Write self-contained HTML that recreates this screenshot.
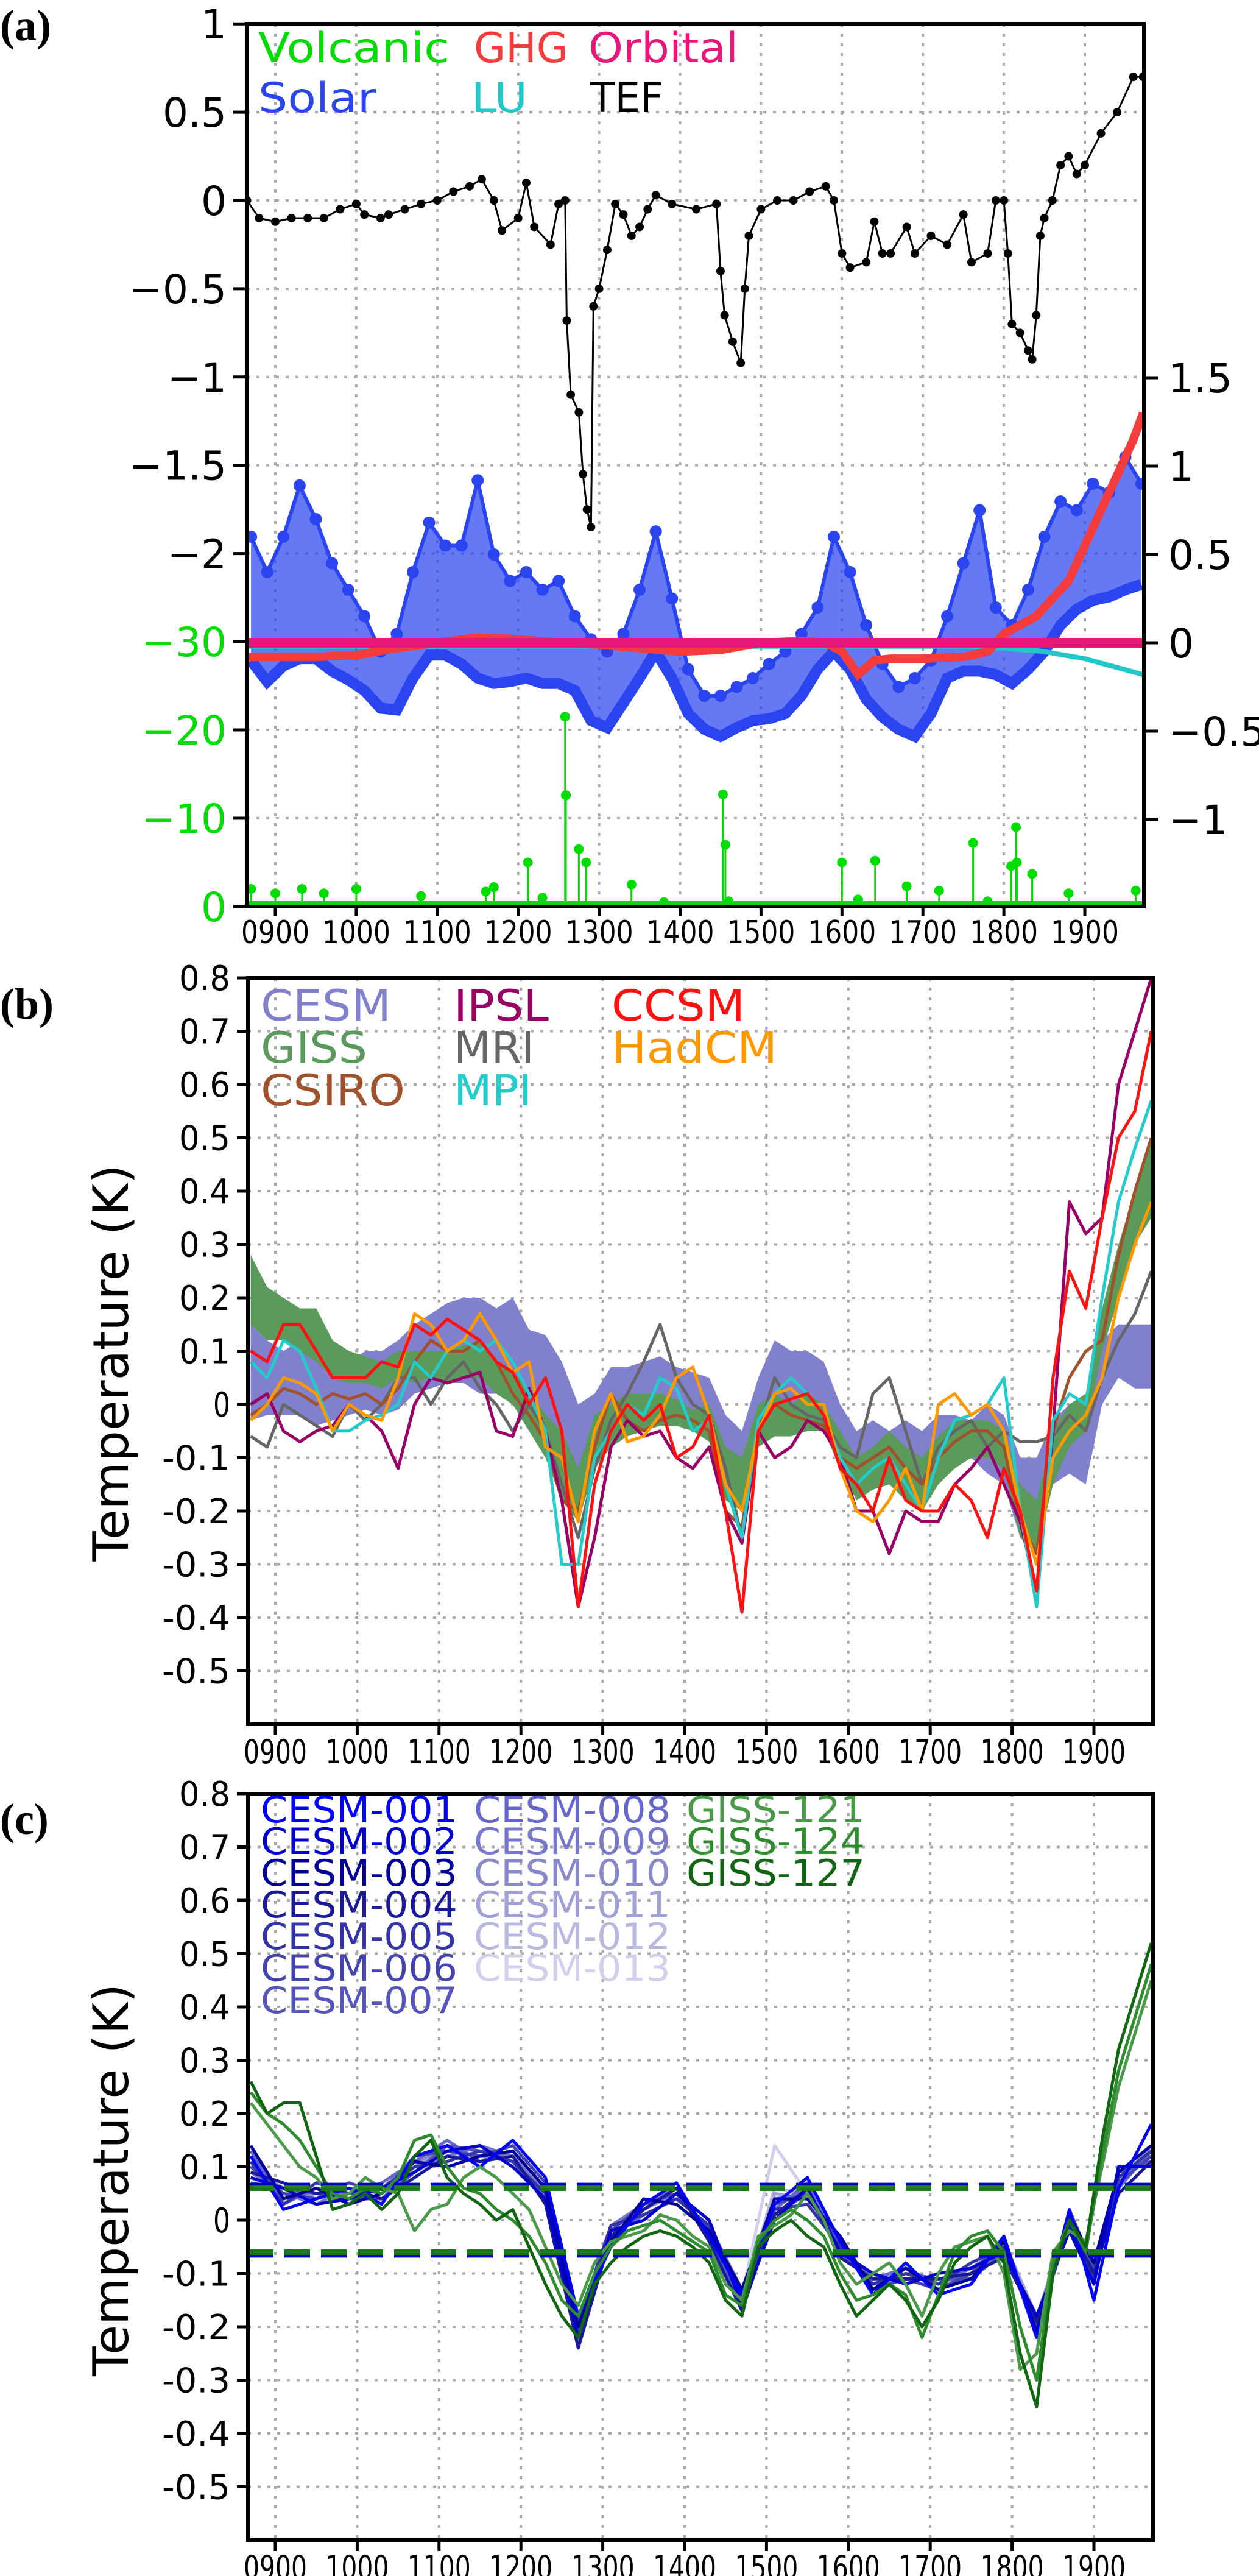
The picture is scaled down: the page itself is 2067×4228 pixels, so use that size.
<!DOCTYPE html>
<html><head><meta charset="utf-8">
<style>
html,body{margin:0;padding:0;background:#fff;}
svg{display:block;}
text{font-family:"DejaVu Sans","Liberation Sans",sans-serif;}
</style></head>
<body>
<svg id="fig" xmlns="http://www.w3.org/2000/svg" width="2067" height="4228" viewBox="0 0 2067 4228">
<rect x="0" y="0" width="2067" height="4228" fill="#fff"/>
<text x="0" y="66" font-weight="bold" font-size="72" style="font-family:'Liberation Serif',serif">(a)</text>
<text x="0" y="1672" font-weight="bold" font-size="72" style="font-family:'Liberation Serif',serif">(b)</text>
<text x="0" y="3010" font-weight="bold" font-size="72" style="font-family:'Liberation Serif',serif">(c)</text>
<g id="gA"></g>
<g id="gB"></g>
<g id="gC"></g>
</svg>
<script>
// ---------- Panel (a) data ----------
const solarYears = [870,890,910,930,950,970,990,1010,1030,1050,1070,1090,1110,1130,1150,1170,1190,1210,1230,1250,1270,1290,1310,1330,1350,1370,1390,1410,1430,1450,1470,1490,1510,1530,1550,1570,1590,1610,1630,1650,1670,1690,1710,1730,1750,1770,1790,1810,1830,1850,1870,1890,1910,1930,1950,1970];
const solarLo = [-0.1,-0.22,-0.13,-0.09,-0.09,-0.16,-0.21,-0.27,-0.37,-0.38,-0.2,-0.07,-0.07,-0.12,-0.2,-0.23,-0.22,-0.2,-0.23,-0.23,-0.27,-0.44,-0.48,-0.34,-0.2,-0.05,-0.2,-0.4,-0.49,-0.53,-0.48,-0.44,-0.43,-0.4,-0.3,-0.15,-0.05,-0.15,-0.32,-0.42,-0.49,-0.53,-0.4,-0.2,-0.16,-0.16,-0.18,-0.23,-0.15,-0.05,0.1,0.19,0.24,0.26,0.3,0.33];
const solarHi = [0.6,0.4,0.6,0.89,0.7,0.45,0.3,0.15,-0.05,0.05,0.4,0.68,0.55,0.55,0.92,0.5,0.35,0.4,0.3,0.35,0.15,0.02,-0.05,0.05,0.3,0.63,0.25,-0.15,-0.3,-0.3,-0.25,-0.2,-0.12,-0.05,0.05,0.2,0.6,0.4,0.1,-0.12,-0.25,-0.2,-0.1,0.15,0.45,0.75,0.2,0.1,0.3,0.6,0.8,0.75,0.9,0.85,1.05,0.9];
const ghgYears = [865,900,950,1000,1050,1100,1150,1200,1250,1300,1350,1400,1450,1500,1550,1580,1600,1620,1640,1660,1700,1750,1780,1800,1820,1840,1860,1880,1900,1920,1940,1960,1972];
const ghgVals = [-0.08,-0.08,-0.08,-0.07,-0.03,0.0,0.03,0.02,0.0,-0.01,-0.03,-0.05,-0.04,0.0,0.01,0.0,-0.05,-0.18,-0.1,-0.09,-0.09,-0.08,-0.05,0.05,0.1,0.15,0.25,0.35,0.55,0.75,0.95,1.15,1.3];
const luYears = [865,1750,1800,1850,1900,1940,1972];
const luVals = [-0.02,-0.02,-0.03,-0.05,-0.09,-0.14,-0.18];
const orbYears = [865,1972];
const orbVals = [0.0,0.0];
const tefYears = [865,880,900,920,940,960,980,1000,1010,1030,1040,1060,1080,1100,1120,1140,1155,1170,1180,1200,1210,1220,1240,1250,1258,1260,1265,1275,1280,1285,1290,1293,1300,1310,1320,1330,1340,1350,1360,1370,1390,1420,1445,1450,1455,1465,1475,1480,1485,1500,1520,1540,1560,1580,1590,1600,1610,1630,1640,1650,1660,1680,1690,1710,1730,1750,1760,1780,1790,1800,1805,1810,1820,1830,1835,1840,1845,1850,1860,1870,1880,1890,1900,1920,1940,1960,1972];
const tefVals = [0,-0.1,-0.12,-0.1,-0.1,-0.1,-0.05,-0.02,-0.08,-0.1,-0.08,-0.05,-0.02,0.0,0.05,0.08,0.12,0.0,-0.17,-0.1,0.1,-0.15,-0.25,-0.02,0.0,-0.68,-1.1,-1.2,-1.55,-1.75,-1.85,-0.6,-0.5,-0.28,-0.02,-0.08,-0.2,-0.15,-0.05,0.03,-0.02,-0.05,-0.02,-0.4,-0.65,-0.8,-0.92,-0.5,-0.2,-0.05,0.0,0.0,0.05,0.08,0.0,-0.3,-0.38,-0.35,-0.12,-0.3,-0.3,-0.15,-0.3,-0.2,-0.25,-0.08,-0.35,-0.3,0.0,0.0,-0.3,-0.7,-0.75,-0.85,-0.9,-0.65,-0.2,-0.1,0.0,0.2,0.25,0.15,0.2,0.38,0.5,0.7,0.7];
const volcYears = [870,900,933,960,1000,1080,1160,1170,1212,1230,1258,1259,1275,1284,1340,1380,1453,1456,1460,1600,1620,1641,1680,1720,1762,1780,1809,1815,1816,1835,1880,1963];
const volcVals = [-2,-1.5,-2,-1.5,-2,-1.2,-1.7,-2.2,-5,-1,-21.5,-12.6,-6.5,-5,-2.5,-0.5,-12.7,-7,-0.6,-5,-0.8,-5.2,-2.3,-1.8,-7.2,-0.6,-4.6,-9,-5,-3.7,-1.5,-1.8];
const yearTicks = [900,1000,1100,1200,1300,1400,1500,1600,1700,1800,1900];
const yearTickLabels = ["0900","1000","1100","1200","1300","1400","1500","1600","1700","1800","1900"];
const aLeftTicks = [1,0.5,0,-0.5,-1,-1.5,-2];
const aLeftLabels = ["1","0.5","0","\u22120.5","\u22121","\u22121.5","\u22122"];
const aVolcTicks = [-30,-20,-10,0];
const aVolcLabels = ["\u221230","\u221220","\u221210","0"];
const aRightTicks = [1.5,1,0.5,0,-0.5,-1];
const aRightLabels = ["1.5","1","0.5","0","\u22120.5","\u22121"];

// ---------- Panel (b) data ----------
const bYears = [870,890,910,930,950,970,990,1010,1030,1050,1070,1090,1110,1130,1150,1170,1190,1210,1230,1250,1270,1290,1310,1330,1350,1370,1390,1410,1430,1450,1470,1490,1510,1530,1550,1570,1590,1610,1630,1650,1670,1690,1710,1730,1750,1770,1790,1810,1830,1850,1870,1890,1910,1930,1950,1970];
const cesmLo = [-0.03,-0.02,-0.02,-0.02,-0.04,-0.03,-0.02,-0.01,-0.02,-0.01,0.02,0.03,0.04,0.04,0.02,0.02,0.0,0.0,-0.03,-0.1,-0.2,-0.12,-0.08,-0.06,-0.03,-0.02,-0.04,-0.03,-0.03,-0.12,-0.15,-0.08,-0.02,0.0,0.0,-0.02,-0.1,-0.15,-0.14,-0.15,-0.14,-0.15,-0.12,-0.12,-0.1,-0.13,-0.15,-0.25,-0.25,-0.15,-0.13,-0.15,0.0,0.05,0.03,0.03];
const cesmHi = [0.15,0.12,0.1,0.12,0.08,0.07,0.08,0.1,0.1,0.12,0.15,0.17,0.19,0.2,0.2,0.18,0.2,0.14,0.13,0.08,0.0,0.02,0.07,0.07,0.08,0.09,0.07,0.06,0.05,-0.02,-0.05,0.05,0.12,0.1,0.1,0.08,0.0,-0.05,-0.03,-0.05,-0.03,-0.05,-0.02,-0.02,-0.03,0.0,-0.02,-0.1,-0.1,-0.03,0.0,0.02,0.12,0.15,0.15,0.15];
const gissLo = [0.15,0.12,0.12,0.1,0.08,0.05,0.04,0.04,0.03,0.05,0.04,0.05,0.04,0.05,0.05,0.02,0.0,-0.05,-0.1,-0.18,-0.22,-0.12,-0.08,-0.06,-0.05,-0.04,-0.04,-0.05,-0.07,-0.18,-0.2,-0.08,-0.06,-0.06,-0.05,-0.05,-0.12,-0.18,-0.16,-0.15,-0.18,-0.2,-0.15,-0.12,-0.1,-0.1,-0.12,-0.25,-0.28,-0.15,-0.08,-0.05,0.1,0.2,0.3,0.35];
const gissHi = [0.28,0.22,0.2,0.18,0.18,0.12,0.1,0.09,0.08,0.1,0.1,0.1,0.1,0.11,0.12,0.08,0.06,0.03,-0.02,-0.05,-0.12,-0.02,0.0,0.02,0.02,0.02,0.01,-0.01,0.0,-0.08,-0.1,0.0,0.02,0.0,0.02,0.0,-0.05,-0.1,-0.08,-0.05,-0.08,-0.1,-0.06,-0.03,-0.03,-0.03,-0.05,-0.15,-0.18,-0.05,0.0,0.02,0.18,0.3,0.4,0.5];
const ipslVals = [0.0,0.02,-0.05,-0.07,-0.05,-0.04,0.0,-0.02,-0.05,-0.12,0.0,0.05,0.04,0.05,0.06,-0.05,-0.06,0.03,-0.05,-0.18,-0.38,-0.25,-0.08,-0.03,-0.06,-0.05,-0.1,-0.12,-0.08,-0.2,-0.26,-0.05,-0.1,-0.08,-0.03,-0.05,-0.1,-0.2,-0.2,-0.28,-0.2,-0.22,-0.22,-0.15,-0.12,-0.08,-0.15,-0.22,-0.35,-0.05,0.38,0.32,0.35,0.6,0.7,0.8];
const ccsmVals = [0.1,0.08,0.15,0.15,0.1,0.05,0.05,0.05,0.08,0.07,0.15,0.13,0.16,0.14,0.12,0.08,0.06,0.0,0.05,-0.05,-0.38,-0.15,-0.05,0.0,-0.03,0.0,-0.1,-0.08,-0.02,-0.2,-0.39,-0.05,0.0,0.01,0.02,-0.02,-0.12,-0.15,-0.2,-0.1,-0.18,-0.2,-0.2,-0.15,-0.18,-0.25,-0.12,-0.2,-0.35,0.05,0.25,0.18,0.35,0.5,0.55,0.7];
const mriVals = [-0.06,-0.08,0.0,-0.02,-0.04,-0.06,0.0,-0.03,0.0,0.05,0.05,0.0,0.05,0.08,0.03,0.0,-0.05,0.0,-0.05,-0.15,-0.25,-0.12,-0.03,0.02,0.08,0.15,0.05,0.0,-0.02,-0.12,-0.25,-0.05,0.05,0.0,-0.02,-0.03,-0.08,-0.1,0.02,0.05,-0.05,-0.15,-0.08,-0.05,-0.03,-0.08,-0.05,-0.07,-0.07,-0.06,-0.02,-0.05,0.05,0.12,0.17,0.25];
const hadVals = [-0.03,0.0,0.05,0.04,0.02,-0.05,0.0,-0.02,-0.03,0.05,0.17,0.15,0.1,0.12,0.17,0.12,0.06,0.08,-0.08,-0.1,-0.22,-0.05,0.02,-0.07,-0.06,-0.02,0.05,0.07,-0.02,-0.15,-0.2,-0.05,0.02,0.03,0.0,0.0,-0.12,-0.2,-0.22,-0.18,-0.12,-0.2,0.0,0.02,-0.02,0.0,-0.05,-0.2,-0.3,-0.1,-0.05,-0.02,0.05,0.2,0.3,0.38];
const csiroVals = [-0.02,0.0,0.03,0.02,0.0,0.02,0.01,0.02,0.0,0.03,0.08,0.12,0.1,0.1,0.12,0.08,0.02,-0.02,-0.07,-0.18,-0.2,-0.08,0.02,-0.03,-0.05,-0.03,-0.02,-0.03,-0.05,-0.2,-0.23,-0.04,0.0,-0.02,-0.03,-0.04,-0.1,-0.12,-0.1,-0.08,-0.12,-0.15,-0.1,-0.07,-0.05,-0.05,-0.08,-0.22,-0.28,-0.05,0.05,0.1,0.12,0.28,0.4,0.5];
const mpiVals = [0.08,0.05,0.12,0.1,0.03,-0.05,-0.05,-0.03,-0.02,0.0,0.08,0.05,0.1,0.12,0.1,0.12,0.08,0.02,-0.05,-0.3,-0.3,-0.1,-0.05,0.0,-0.02,0.05,0.03,-0.05,-0.03,-0.15,-0.25,-0.03,0.02,0.05,0.02,-0.02,-0.1,-0.15,-0.12,-0.1,-0.15,-0.2,-0.1,-0.03,-0.02,0.0,0.05,-0.2,-0.38,-0.03,0.02,0.0,0.2,0.38,0.48,0.57];
const tempTicks = [0.8,0.7,0.6,0.5,0.4,0.3,0.2,0.1,0,-0.1,-0.2,-0.3,-0.4,-0.5];
const tempTickLabels = ["0.8","0.7","0.6","0.5","0.4","0.3","0.2","0.1","0","-0.1","-0.2","-0.3","-0.4","-0.5"];

// ---------- Panel (c) data ----------
const cYears = [870,910,950,990,1030,1070,1110,1150,1190,1230,1270,1310,1350,1390,1430,1470,1510,1550,1590,1630,1670,1710,1750,1790,1830,1870,1900,1930,1970];
const cesm001 = [12,2,4,6,3,12,14,10,15,8,-18,-5,3,7,-3,-14,3,8,-4,-14,-8,-14,-12,-3,-22,2,-15,6,18];
const cesm002 = [8,6,3,4,6,9,13,14,10,4,-22,-2,0,5,0,-16,0,6,-6,-10,-12,-10,-9,-6,-18,-2,-12,10,10];
const cesm003 = [14,4,6,3,5,11,10,12,13,6,-20,-4,4,3,-2,-13,4,4,-3,-13,-9,-13,-11,-4,-21,1,-8,9,14];
const cesm004 = [9,7,5,6,4,8,12,11,12,3,-24,-3,2,6,-4,-17,1,6,-7,-11,-11,-11,-10,-7,-19,-1,-10,5,11];
const cesm005 = [11,3,7,5,6,10,11,13,11,5,-19,-1,1,4,-1,-15,2,3,-5,-12,-10,-12,-8,-5,-20,0,-11,8,13];
const cesm006 = [10,5,4,7,5,12,13,12,14,7,-21,-2,3,5,-2,-14,3,5,-4,-13,-11,-13,-10,-4,-22,2,-9,7,12];
const cesm007 = [7,6,5,4,4,9,14,13,11,4,-20,-4,2,6,-3,-16,1,5,-6,-12,-10,-11,-11,-6,-20,-1,-10,9,11];
const cesm008 = [13,3,6,5,7,11,15,11,13,6,-23,-3,1,4,-1,-13,2,7,-5,-11,-9,-12,-9,-5,-19,0,-9,6,13];
const cesm009 = [9,5,3,6,5,10,12,14,12,5,-22,-1,3,6,-3,-15,4,5,-6,-12,-11,-13,-10,-3,-21,1,-11,8,12];
const cesm010 = [11,4,5,4,6,11,13,12,11,4,-19,-3,2,5,-2,-14,3,6,-4,-13,-10,-11,-11,-5,-20,-1,-10,7,14];
const cesm011 = [10,6,4,5,4,10,14,13,12,6,-21,-2,3,4,-1,-16,5,4,-5,-12,-9,-12,-10,-4,-18,0,-9,9,11];
const cesm012 = [12,5,5,6,5,9,12,12,13,5,-20,-3,2,5,-2,-15,6,5,-5,-11,-10,-12,-9,-5,-19,1,-10,8,12];
const cesm013 = [8,4,6,5,6,11,13,13,11,4,-22,-2,2,6,-3,-14,14,5,-6,-12,-11,-13,-10,-4,-20,0,-11,7,13];
const giss121 = [22,18,14,10,8,4,5,8,6,5,-2,2,3,8,10,8,5,2,-5,-12,-16,-8,-4,-3,-2,1,0,-3,-5,-12,-15,-3,-1,1,5,0,-8,-12,-10,-8,-12,-18,-10,-5,-4,-3,-10,-28,-25,-6,-2,-4,10,25,35,45];
const giss124 = [24,20,18,15,10,5,4,6,5,8,15,16,10,6,5,2,0,-3,-8,-15,-18,-10,-5,-2,-1,0,-2,-4,-6,-14,-16,-4,0,2,0,-3,-10,-15,-14,-12,-14,-22,-14,-6,-3,-2,-6,-20,-30,-8,0,-6,12,28,38,48];
const giss127 = [26,20,22,22,12,2,3,5,2,5,12,15,8,5,3,0,2,-5,-12,-18,-22,-12,-8,-5,-3,-2,-3,-5,-8,-15,-18,-5,-2,0,-3,-5,-12,-18,-15,-12,-15,-20,-15,-8,-5,-3,-8,-25,-35,-10,0,-5,15,32,42,52];
const cesmBounds = [0.065,-0.065];
const gissBounds = [0.06,-0.06];

const NS = "http://www.w3.org/2000/svg";
function mk(parent, tag, attrs, name, inter) {
  const el = document.createElementNS(NS, tag);
  for (const k in attrs) el.setAttribute(k, attrs[k]);
  
  
  parent.appendChild(el);
  return el;
}
function txt(parent, x, y, s, size, anchor, color, name, extra) {
  const el = mk(parent, 'text', Object.assign({x:x, y:y, 'font-size':size, 'text-anchor':anchor, fill:color}, extra||{}), name, false);
  el.textContent = s;
  return el;
}
function pathFrom(xs, ys, sx, sy) {
  let d = '';
  for (let i = 0; i < xs.length; i++) d += (i ? 'L' : 'M') + sx(xs[i]).toFixed(1) + ' ' + sy(ys[i]).toFixed(1);
  return d;
}
function bandFrom(xs, lo, hi, sx, sy) {
  let d = '';
  for (let i = 0; i < xs.length; i++) d += (i ? 'L' : 'M') + sx(xs[i]).toFixed(1) + ' ' + sy(hi[i]).toFixed(1);
  for (let i = xs.length - 1; i >= 0; i--) d += 'L' + sx(xs[i]).toFixed(1) + ' ' + sy(lo[i]).toFixed(1);
  return d + 'Z';
}

// ================= Panel A =================
(function(){
  const g = document.getElementById('gA');
  const L = 405, R = 1878, T = 39, B = 1488;
  const xA = y => 452 + (y - 900) * 1.329;
  const yL = v => 329 - v * 289.8;
  const yR = v => 1055 - v * 290;
  const yV = v => B + v * 14.5;
  const grid = mk(g, 'g', {}, 'grid-a', false);
  yearTicks.forEach(t => {
    const gl = mk(grid, 'line', {x1:xA(t), x2:xA(t), y1:T, y2:B, stroke:'#aaa', 'stroke-width':4, 'stroke-dasharray':'5 11'}, 'grid-line-x', false);
  });
  aLeftTicks.forEach(t => {
    const gl = mk(grid, 'line', {x1:L, x2:R, y1:yL(t), y2:yL(t), stroke:'#aaa', 'stroke-width':4, 'stroke-dasharray':'5 11'}, 'grid-line-y', false);
  });
  aVolcTicks.forEach(t => {
    const gl = mk(grid, 'line', {x1:L, x2:R, y1:yV(t), y2:yV(t), stroke:'#aaa', 'stroke-width':4, 'stroke-dasharray':'5 11'}, 'grid-line-y', false);
  });
  const cp = mk(g, 'clipPath', {id:'clipA'}, 'clip-a', false);
  mk(cp, 'rect', {x:L, y:T, width:R-L, height:B-T}, 'clip-rect', false);
  const pg = mk(g, 'g', {'clip-path':'url(#clipA)'}, 'plot-area-a', false);
  // solar band
  mk(pg, 'path', {d:bandFrom(solarYears, solarLo, solarHi, xA, yR), fill:'#2a45f0', 'fill-opacity':0.72, stroke:'none'}, 'solar-band', false);
  mk(pg, 'path', {d:pathFrom(solarYears, solarHi, xA, yR), fill:'none', stroke:'#2a45f0', 'stroke-width':6}, 'solar-upper', false);
  mk(pg, 'path', {d:pathFrom(solarYears, solarLo, xA, yR), fill:'none', stroke:'#2a45f0', 'stroke-width':18}, 'solar-lower', false);
  solarYears.forEach((yr, i) => {
    const c = mk(pg, 'circle', {cx:xA(yr), cy:yR(solarHi[i]), r:10, fill:'#2a45f0'}, 'solar-point', false);
  });
  // LU
  mk(pg, 'path', {d:pathFrom(luYears, luVals, xA, yR), fill:'none', stroke:'#22c8c8', 'stroke-width':8}, 'lu-line', false);
  // GHG
  mk(pg, 'path', {d:pathFrom(ghgYears, ghgVals, xA, yR), fill:'none', stroke:'#f53c3c', 'stroke-width':14}, 'ghg-line', false);
  // Orbital
  mk(pg, 'path', {d:pathFrom(orbYears, orbVals, xA, yR), fill:'none', stroke:'#e6197a', 'stroke-width':16}, 'orbital-line', false);
  // TEF
  mk(pg, 'path', {d:pathFrom(tefYears, tefVals, xA, yL), fill:'none', stroke:'#000', 'stroke-width':3}, 'tef-line', false);
  tefYears.forEach((yr, i) => {
    const c = mk(pg, 'circle', {cx:xA(yr), cy:yL(tefVals[i]), r:7, fill:'#000'}, 'tef-point', false);
  });
  // Volcanic
  mk(pg, 'line', {x1:L, x2:R, y1:B-4, y2:B-4, stroke:'#00dd00', 'stroke-width':10}, 'volcanic-baseline', false);
  volcYears.forEach((yr, i) => {
    const s = mk(pg, 'line', {x1:xA(yr), x2:xA(yr), y1:B, y2:yV(volcVals[i]), stroke:'#00dd00', 'stroke-width':3}, 'volcanic-spike', false);
    const c = mk(pg, 'circle', {cx:xA(yr), cy:yV(volcVals[i]), r:8, fill:'#00dd00'}, 'volcanic-point', false);
  });
  mk(g, 'rect', {x:L, y:T, width:R-L, height:B-T, fill:'none', stroke:'#000', 'stroke-width':6}, 'frame-a', false);
  aLeftTicks.forEach((t, i) => {
    mk(g, 'line', {x1:L-22, x2:L, y1:yL(t), y2:yL(t), stroke:'#000', 'stroke-width':5}, 'y-tick-left', false);
    txt(g, 372, yL(t)+24, aLeftLabels[i], 66, 'end', '#000', 'y-tick-label-left');
  });
  aVolcTicks.forEach((t, i) => {
    mk(g, 'line', {x1:L-22, x2:L, y1:yV(t), y2:yV(t), stroke:'#000', 'stroke-width':5}, 'y-tick-volcanic', false);
    txt(g, 372, yV(t)+24, aVolcLabels[i], 66, 'end', '#00dd00', 'y-tick-label-volcanic');
  });
  aRightTicks.forEach((t, i) => {
    mk(g, 'line', {x1:R, x2:R+24, y1:yR(t), y2:yR(t), stroke:'#000', 'stroke-width':5}, 'y-tick-right', false);
    txt(g, 1918, yR(t)+24, aRightLabels[i], 66, 'start', '#000', 'y-tick-label-right');
  });
  yearTicks.forEach((t, i) => {
    mk(g, 'line', {x1:xA(t), x2:xA(t), y1:B, y2:B+16, stroke:'#000', 'stroke-width':5}, 'x-tick', false);
    txt(g, xA(t), 1548, yearTickLabels[i], 52, 'middle', '#000', 'x-tick-label', {textLength:112, lengthAdjust:'spacingAndGlyphs'});
  });
  const lg = mk(g, 'g', {}, 'legend-a', false);
  txt(lg, 424, 102, 'Volcanic', 68, 'start', '#00dd00', 'legend-volcanic', {textLength:314, lengthAdjust:'spacingAndGlyphs'});
  txt(lg, 778, 102, 'GHG', 68, 'start', '#f53c3c', 'legend-ghg', {textLength:155, lengthAdjust:'spacingAndGlyphs'});
  txt(lg, 966, 102, 'Orbital', 68, 'start', '#e6197a', 'legend-orbital', {textLength:246, lengthAdjust:'spacingAndGlyphs'});
  txt(lg, 424, 184, 'Solar', 68, 'start', '#2a45f0', 'legend-solar', {textLength:194, lengthAdjust:'spacingAndGlyphs'});
  txt(lg, 774, 184, 'LU', 68, 'start', '#22c8c8', 'legend-lu', {textLength:92, lengthAdjust:'spacingAndGlyphs'});
  txt(lg, 969, 184, 'TEF', 68, 'start', '#000', 'legend-tef', {textLength:120, lengthAdjust:'spacingAndGlyphs'});
})();

function tempPanel(gid, T, clipId) {
  const g = document.getElementById(gid);
  const L = 407, R = 1893, B = T + 1225;
  const xB = y => 452 + (y - 900) * 1.344;
  const yB = v => T + (0.8 - v) * 875;
  const grid = mk(g, 'g', {}, 'grid', false);
  yearTicks.forEach(t => {
    const gl = mk(grid, 'line', {x1:xB(t), x2:xB(t), y1:T, y2:B, stroke:'#aaa', 'stroke-width':4, 'stroke-dasharray':'5 11'}, 'grid-line-x', false);
  });
  tempTicks.forEach(t => {
    const gl = mk(grid, 'line', {x1:L, x2:R, y1:yB(t), y2:yB(t), stroke:'#aaa', 'stroke-width':4, 'stroke-dasharray':'5 11'}, 'grid-line-y', false);
  });
  const cp = mk(g, 'clipPath', {id:clipId}, 'clip', false);
  mk(cp, 'rect', {x:L, y:T, width:R-L, height:B-T}, 'clip-rect', false);
  const pg = mk(g, 'g', {'clip-path':'url(#' + clipId + ')'}, 'plot-area', false);
  return {g, pg, L, R, T, B, xB, yB};
}
function tempAxes(P) {
  const {g, L, R, T, B, xB, yB} = P;
  mk(g, 'rect', {x:L, y:T, width:R-L, height:B-T, fill:'none', stroke:'#000', 'stroke-width':6}, 'frame', false);
  tempTicks.forEach((t, i) => {
    mk(g, 'line', {x1:L-18, x2:L, y1:yB(t), y2:yB(t), stroke:'#000', 'stroke-width':5}, 'y-tick', false);
    txt(g, 378, yB(t)+20, tempTickLabels[i], 56, 'end', '#000', 'y-tick-label', {textLength: tempTickLabels[i].length*28, lengthAdjust:'spacingAndGlyphs'});
  });
  yearTicks.forEach((t, i) => {
    mk(g, 'line', {x1:xB(t), x2:xB(t), y1:B, y2:B+18, stroke:'#000', 'stroke-width':5}, 'x-tick', false);
    txt(g, xB(t), B+64, yearTickLabels[i], 54, 'middle', '#000', 'x-tick-label', {textLength:104, lengthAdjust:'spacingAndGlyphs'});
  });
}

(function(){
  const P = tempPanel('gB', 1605, 'clipB');
  const {pg, xB, yB, g} = P;
  mk(pg, 'path', {d:bandFrom(bYears, cesmLo, cesmHi, xB, yB), fill:'#8080cc'}, 'cesm-band', false);
  mk(pg, 'path', {d:bandFrom(bYears, gissLo, gissHi, xB, yB), fill:'#5a9a5a'}, 'giss-band', false);
  const series = [
    [mriVals, '#666666', 'mri-line'],
    [csiroVals, '#a0522d', 'csiro-line'],
    [ipslVals, '#990066', 'ipsl-line'],
    [mpiVals, '#22cccc', 'mpi-line'],
    [hadVals, '#ff9900', 'hadcm-line'],
    [ccsmVals, '#ff1111', 'ccsm-line']
  ];
  series.forEach(s => {
    const p = mk(pg, 'path', {d:pathFrom(bYears, s[0], xB, yB), fill:'none', stroke:s[1], 'stroke-width':5, 'stroke-linejoin':'round'}, s[2], false);
  });
  tempAxes(P);
  const lg = mk(g, 'g', {}, 'legend-b', false);
  txt(lg, 428, 1675, 'CESM', 70, 'start', '#8080cc', 'legend-cesm', {textLength:214, lengthAdjust:'spacingAndGlyphs'});
  txt(lg, 745, 1675, 'IPSL', 70, 'start', '#990066', 'legend-ipsl', {textLength:156, lengthAdjust:'spacingAndGlyphs'});
  txt(lg, 1004, 1675, 'CCSM', 70, 'start', '#ff1111', 'legend-ccsm', {textLength:219, lengthAdjust:'spacingAndGlyphs'});
  txt(lg, 428, 1744, 'GISS', 70, 'start', '#5a9a5a', 'legend-giss', {textLength:175, lengthAdjust:'spacingAndGlyphs'});
  txt(lg, 745, 1744, 'MRI', 70, 'start', '#666666', 'legend-mri', {textLength:132, lengthAdjust:'spacingAndGlyphs'});
  txt(lg, 1004, 1744, 'HadCM', 70, 'start', '#ff9900', 'legend-hadcm', {textLength:272, lengthAdjust:'spacingAndGlyphs'});
  txt(lg, 428, 1814, 'CSIRO', 70, 'start', '#a0522d', 'legend-csiro', {textLength:237, lengthAdjust:'spacingAndGlyphs'});
  txt(lg, 745, 1814, 'MPI', 70, 'start', '#22cccc', 'legend-mpi', {textLength:128, lengthAdjust:'spacingAndGlyphs'});
  txt(g, 0, 0, 'Temperature (K)', 80, 'middle', '#000', 'y-axis-title-b', {transform:'translate(210,2237) rotate(-90)', textLength:651, lengthAdjust:'spacingAndGlyphs'});
})();

(function(){
  const P = tempPanel('gC', 2944, 'clipC');
  const {pg, xB, yB, g} = P;
  const members = [
    [cesm013, '#d0d0ec', 'cesm-013-line'],
    [cesm012, '#b8b8e0', 'cesm-012-line'],
    [cesm011, '#a0a0d8', 'cesm-011-line'],
    [cesm010, '#8888cc', 'cesm-010-line'],
    [cesm009, '#7777cc', 'cesm-009-line'],
    [cesm008, '#6666cc', 'cesm-008-line'],
    [cesm007, '#5555bb', 'cesm-007-line'],
    [cesm006, '#4444b0', 'cesm-006-line'],
    [cesm005, '#3333aa', 'cesm-005-line'],
    [cesm004, '#1a1a99', 'cesm-004-line'],
    [cesm003, '#000099', 'cesm-003-line'],
    [cesm002, '#0000cc', 'cesm-002-line'],
    [cesm001, '#0000ff', 'cesm-001-line']
  ];
  members.forEach(m => {
    const vals = m[0].map(v => v / 100);
    const p = mk(pg, 'path', {d:pathFrom(cYears, vals, xB, yB), fill:'none', stroke:m[1], 'stroke-width':5, 'stroke-linejoin':'round'}, m[2], false);
  });
  const giss = [
    [giss121, '#4a9a4a', 'giss-121-line'],
    [giss124, '#2e8b2e', 'giss-124-line'],
    [giss127, '#116611', 'giss-127-line']
  ];
  giss.forEach(m => {
    const vals = m[0].map(v => v / 100);
    const p = mk(pg, 'path', {d:pathFrom(bYears, vals, xB, yB), fill:'none', stroke:m[1], 'stroke-width':5, 'stroke-linejoin':'round'}, m[2], false);
  });
  cesmBounds.forEach(b => {
    const l = mk(pg, 'line', {x1:P.L, x2:P.R, y1:yB(b), y2:yB(b), stroke:'#0000cc', 'stroke-width':9, 'stroke-dasharray':'42 18'}, 'cesm-bound-dashed', false);
  });
  gissBounds.forEach(b => {
    const l = mk(pg, 'line', {x1:P.L, x2:P.R, y1:yB(b), y2:yB(b), stroke:'#1a7a1a', 'stroke-width':9, 'stroke-dasharray':'42 18'}, 'giss-bound-dashed', false);
  });
  tempAxes(P);
  const lg = mk(g, 'g', {}, 'legend-c', false);
  const col1 = [['CESM-001','#0000ff'],['CESM-002','#0000cc'],['CESM-003','#000099'],['CESM-004','#1a1a99'],['CESM-005','#3333aa'],['CESM-006','#4444b0'],['CESM-007','#5555bb']];
  const col2 = [['CESM-008','#6666cc'],['CESM-009','#7777cc'],['CESM-010','#8888cc'],['CESM-011','#a0a0d8'],['CESM-012','#b8b8e0'],['CESM-013','#d0d0ec']];
  const col3 = [['GISS-121','#4a9a4a'],['GISS-124','#2e8b2e'],['GISS-127','#116611']];
  const rowsY = [2991,3043,3095,3147,3199,3251,3304];
  col1.forEach((e, i) => { txt(lg, 428, rowsY[i], e[0], 60, 'start', e[1], 'legend-' + e[0].toLowerCase(), {textLength:323, lengthAdjust:'spacingAndGlyphs'}); });
  col2.forEach((e, i) => { txt(lg, 778, rowsY[i], e[0], 60, 'start', e[1], 'legend-' + e[0].toLowerCase(), {textLength:323, lengthAdjust:'spacingAndGlyphs'}); });
  col3.forEach((e, i) => { txt(lg, 1127, rowsY[i], e[0], 60, 'start', e[1], 'legend-' + e[0].toLowerCase(), {textLength:293, lengthAdjust:'spacingAndGlyphs'}); });
  txt(g, 0, 0, 'Temperature (K)', 80, 'middle', '#000', 'y-axis-title-c', {transform:'translate(210,3578) rotate(-90)', textLength:644, lengthAdjust:'spacingAndGlyphs'});
})();
</script>
</body></html>
